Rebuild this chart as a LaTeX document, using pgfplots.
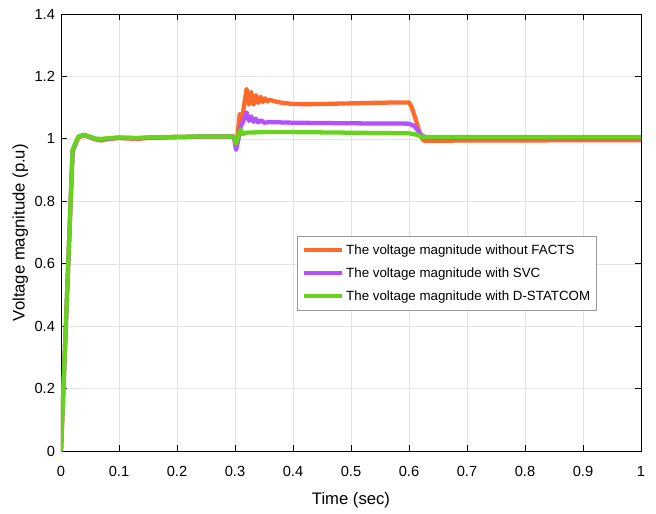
\documentclass[border=0pt]{standalone}
\usepackage{pgfplots}
\pgfplotsset{compat=1.18}
\usepackage{fontspec}
\setmainfont{Liberation Sans}

\definecolor{cOrange}{RGB}{255,106,42}
\definecolor{cPurple}{RGB}{180,80,255}
\definecolor{cGreen}{RGB}{102,212,26}

\begin{document}
\begin{tikzpicture}
\begin{axis}[
    scale only axis,
    width=435pt, height=328pt,
    xmin=0, xmax=1, ymin=0, ymax=1.4,
    xtick={0,0.1,...,1}, ytick={0,0.2,...,1.4},
    xticklabels={0,0.1,0.2,0.3,0.4,0.5,0.6,0.7,0.8,0.9,1},
    yticklabels={0,0.2,0.4,0.6,0.8,1,1.2,1.4},
    tick align=inside,
    xtick pos=both, ytick pos=both,
    major tick length=4.5pt,
    grid=major,
    grid style={gray!22, line width=0.6pt},
    axis line style={black, line width=0.7pt},
    tick style={black, line width=0.7pt},
    ticklabel style={font=\fontsize{11}{13}\selectfont},
    xticklabel style={yshift=-7.5pt},
    yticklabel style={xshift=-1pt},
    /pgf/number format/assume math mode=true,
    xlabel={Time (sec)},
    ylabel={Voltage magnitude (p.u)},
    label style={font=\fontsize{12.5}{15}\selectfont},
    xlabel style={at={(axis description cs:0.5,0)}, anchor=north, inner sep=0pt, yshift=-30.5pt},
    ylabel style={at={([xshift=-24.5pt]axis description cs:0,0.5)}, anchor=south, inner sep=0pt},
    legend style={
        at={(axis description cs:0.407,0.492)}, anchor=north west,
        draw=gray!80, line width=0.7pt, fill=white,
        font=\fontsize{10}{12}\selectfont,
        row sep=4.5pt, inner xsep=3pt, inner ysep=4pt,
    },
    legend cell align=left,
    legend image code/.code={\draw[#1,line width=3pt] (0pt,0pt) -- (28.5pt,0pt);},
    extra description/.code={
        \path (axis description cs:0,0) ++(-45.75pt,-46.5pt);
        \path (axis description cs:1,1) ++(11.25pt,10.5pt);
    },
]
\addplot[cOrange, line width=3.2pt, line join=round] coordinates {
(0,0) (0.02,0.96) (0.03,1.005) (0.04,1.012) (0.05,1.005) (0.06,0.998) (0.07,0.995)
(0.08,0.999) (0.1,1.003) (0.13,1.0) (0.15,1.003) (0.2,1.006) (0.25,1.008) (0.298,1.008)
(0.302,0.972) (0.305,1.02) (0.308,1.08) (0.311,1.05) (0.315,1.10) (0.320,1.16)
(0.324,1.11) (0.328,1.15) (0.332,1.11) (0.336,1.14) (0.340,1.115) (0.344,1.135)
(0.348,1.118) (0.352,1.13) (0.356,1.12) (0.36,1.125) (0.37,1.12) (0.38,1.116)
(0.4,1.112) (0.42,1.111) (0.45,1.112) (0.5,1.114) (0.55,1.116) (0.59,1.117)
(0.600,1.117) (0.605,1.10) (0.612,1.06) (0.62,1.01) (0.625,0.995) (0.63,0.994)
(0.7,0.995) (1,0.996)
};
\addlegendentry{\makebox[182pt][l]{The voltage magnitude without FACTS}}
\addplot[cPurple, line width=3.2pt, line join=round] coordinates {
(0,0) (0.02,0.962) (0.03,1.007) (0.04,1.013) (0.05,1.006) (0.06,1.0) (0.07,0.999)
(0.08,1.001) (0.1,1.004) (0.13,1.002) (0.15,1.004) (0.2,1.006) (0.25,1.008) (0.298,1.008)
(0.302,0.965) (0.306,1.0) (0.31,1.04) (0.315,1.06) (0.32,1.085) (0.324,1.058)
(0.328,1.072) (0.332,1.055) (0.336,1.065) (0.34,1.053) (0.345,1.06) (0.35,1.052)
(0.36,1.054) (0.4,1.052) (0.5,1.05) (0.6,1.049) (0.61,1.04) (0.62,1.015)
(0.63,1.003) (0.7,1.003) (1,1.003)
};
\addlegendentry{The voltage magnitude with SVC}
\addplot[cGreen, line width=3.2pt, line join=round] coordinates {
(0,0) (0.02,0.965) (0.03,1.008) (0.04,1.013) (0.05,1.007) (0.06,1.001) (0.07,1.0)
(0.08,1.002) (0.1,1.005) (0.13,1.003) (0.15,1.005) (0.2,1.007) (0.25,1.008) (0.298,1.008)
(0.302,0.985) (0.306,1.01) (0.31,1.03) (0.313,1.015) (0.318,1.02) (0.35,1.022)
(0.4,1.022) (0.5,1.02) (0.6,1.018) (0.61,1.015) (0.62,1.008) (0.63,1.006) (1,1.006)
};
\addlegendentry{The voltage magnitude with D-STATCOM}
\end{axis}
\end{tikzpicture}
\end{document}
